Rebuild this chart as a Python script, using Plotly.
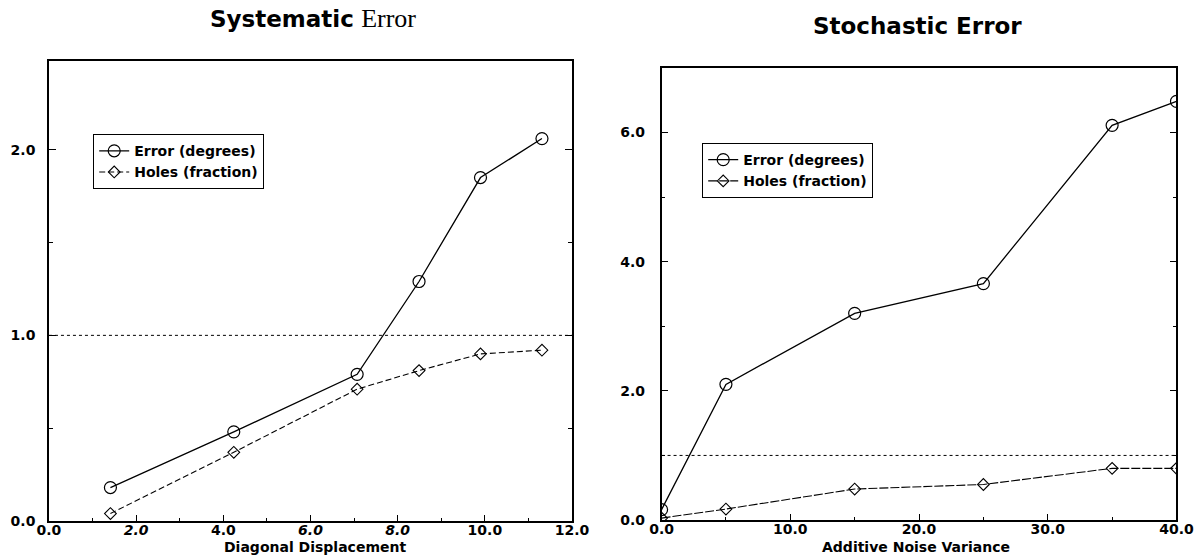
import plotly.graph_objects as go

# ---- Data: Systematic Error (left) ----
sys_x = [1.41, 4.24, 7.07, 8.49, 9.90, 11.31]
sys_error = [0.18, 0.48, 0.79, 1.29, 1.85, 2.06]
sys_holes = [0.04, 0.37, 0.71, 0.81, 0.90, 0.92]
sys_xticks = [0, 2, 4, 6, 8, 10, 12]
sys_xticktext = ["0.0", "<i>2.0</i>", "4.0", "<i>6.0</i>", "<i>8.0</i>", "10.0", "12.0"]

# ---- Data: Stochastic Error (right) ----
sto_x = [0, 5, 15, 25, 35, 40]
sto_error = [0.16, 2.10, 3.20, 3.66, 6.11, 6.48]
sto_holes = [0.03, 0.17, 0.48, 0.55, 0.80, 0.80]

threshold = 1.0

FONT = "DejaVu Sans"
BLACK = "black"

fig = go.Figure()

err_line = dict(color=BLACK, width=1.3)
marker_circle = dict(symbol="circle-open", size=12, color=BLACK, line=dict(width=1.2, color=BLACK))
marker_diamond = dict(symbol="diamond-open", size=9, color=BLACK, line=dict(width=1.1, color=BLACK))

fig.add_trace(go.Scatter(x=sys_x, y=sys_error, mode="lines+markers", name="Error (degrees)",
                         line=err_line, marker=marker_circle, xaxis="x", yaxis="y", legend="legend"))
fig.add_trace(go.Scatter(x=sys_x, y=sys_holes, mode="lines+markers", name="Holes (fraction)",
                         line=dict(color=BLACK, width=1.1, dash="6px,3px"), marker=marker_diamond,
                         xaxis="x", yaxis="y", legend="legend"))

fig.add_trace(go.Scatter(x=sto_x, y=sto_error, mode="lines+markers", name="Error (degrees)",
                         line=err_line, marker=marker_circle, xaxis="x2", yaxis="y2", legend="legend2"))
fig.add_trace(go.Scatter(x=sto_x, y=sto_holes, mode="lines+markers", name="Holes (fraction)",
                         line=dict(color=BLACK, width=1.1, dash="9px,2px"), marker=marker_diamond,
                         xaxis="x2", yaxis="y2", legend="legend2"))

tickfont = dict(family=FONT, size=14, color=BLACK, weight="bold")

common_x = dict(showgrid=False, zeroline=False, showline=True, linecolor=BLACK, linewidth=1.5,
                mirror=True, ticks="inside", ticklen=6, tickwidth=1.2, tickcolor=BLACK,
                tickfont=tickfont, ticklabelstandoff=-5, automargin=False)
common_y = dict(showgrid=False, zeroline=False, showline=True, linecolor=BLACK, linewidth=1.5,
                mirror="ticks", ticks="inside", ticklen=7, tickwidth=1.2, tickcolor=BLACK,
                tickfont=tickfont, tickformat=".1f", automargin=False)

fig.update_layout(
    width=1200, height=556,
    margin=dict(l=0, r=0, t=0, b=0, autoexpand=False),
    paper_bgcolor="white", plot_bgcolor="white",
    showlegend=True,
    xaxis=dict(common_x, domain=[0.0408, 0.4767], range=[0, 12], anchor="y",
               tickvals=sys_xticks, ticktext=sys_xticktext,
               minor=dict(dtick=1, ticks="inside", ticklen=3, tickcolor=BLACK)),
    yaxis=dict(common_y, domain=[0.063, 0.891], range=[0, 2.48], anchor="x",
               dtick=1, ticklabelstandoff=9,
               minor=dict(dtick=0.5, ticks="inside", ticklen=4, tickcolor=BLACK)),
    xaxis2=dict(common_x, domain=[0.5513, 0.9804], range=[0, 40], anchor="y2",
                dtick=10, tickformat=".1f",
                minor=dict(dtick=5, ticks="inside", ticklen=3, tickcolor=BLACK)),
    yaxis2=dict(common_y, domain=[0.0647, 0.878], range=[0, 7.0], anchor="x2",
                dtick=2, ticklabelstandoff=12,
                minor=dict(dtick=1, ticks="inside", ticklen=4, tickcolor=BLACK)),
    legend=dict(x=0.0775, y=0.759, xanchor="left", yanchor="top",
                bgcolor="white", bordercolor=BLACK, borderwidth=1.2,
                font=dict(family=FONT, size=14, color=BLACK, weight="bold"),
                itemwidth=30, tracegroupgap=0),
    legend2=dict(x=0.585, y=0.743, xanchor="left", yanchor="top",
                 bgcolor="white", bordercolor=BLACK, borderwidth=1.2,
                 font=dict(family=FONT, size=14, color=BLACK, weight="bold"),
                 itemwidth=30, tracegroupgap=0),
)

# threshold dotted lines at 1.0
for xr, yr in (("x domain", "y"), ("x2 domain", "y2")):
    fig.add_shape(type="line", xref=xr, yref=yr, x0=0, x1=1, y0=threshold, y1=threshold,
                  line=dict(color=BLACK, width=1, dash="dot"))

# titles
fig.add_annotation(xref="paper", yref="paper", x=312.5 / 1200, y=1 - 18.5 / 556,
                   xanchor="center", yanchor="middle", showarrow=False,
                   text="<b>Systematic</b> <span style=\"font-family:'Liberation Serif';font-size:26px\">Error</span>",
                   font=dict(family=FONT, size=23, color=BLACK))
fig.add_annotation(xref="paper", yref="paper", x=917 / 1200, y=1 - 25.7 / 556,
                   xanchor="center", yanchor="middle", showarrow=False,
                   text="<b>Stochastic Error</b>",
                   font=dict(family=FONT, size=23, color=BLACK))

# axis titles
fig.add_annotation(xref="paper", yref="paper", x=315 / 1200, y=0,
                   xanchor="center", yanchor="bottom", showarrow=False, borderpad=0,
                   text="<b>Diagonal Displacement</b>",
                   font=dict(family=FONT, size=14, color=BLACK))
fig.add_annotation(xref="paper", yref="paper", x=915.5 / 1200, y=0,
                   xanchor="center", yanchor="bottom", showarrow=False, borderpad=0,
                   text="<b>Additive Noise Variance</b>",
                   font=dict(family=FONT, size=14, color=BLACK))

fig.write_html("out.html",
               config={"displayModeBar": False},
               post_script="document.body.style.margin='0';document.body.style.overflow='hidden';")
